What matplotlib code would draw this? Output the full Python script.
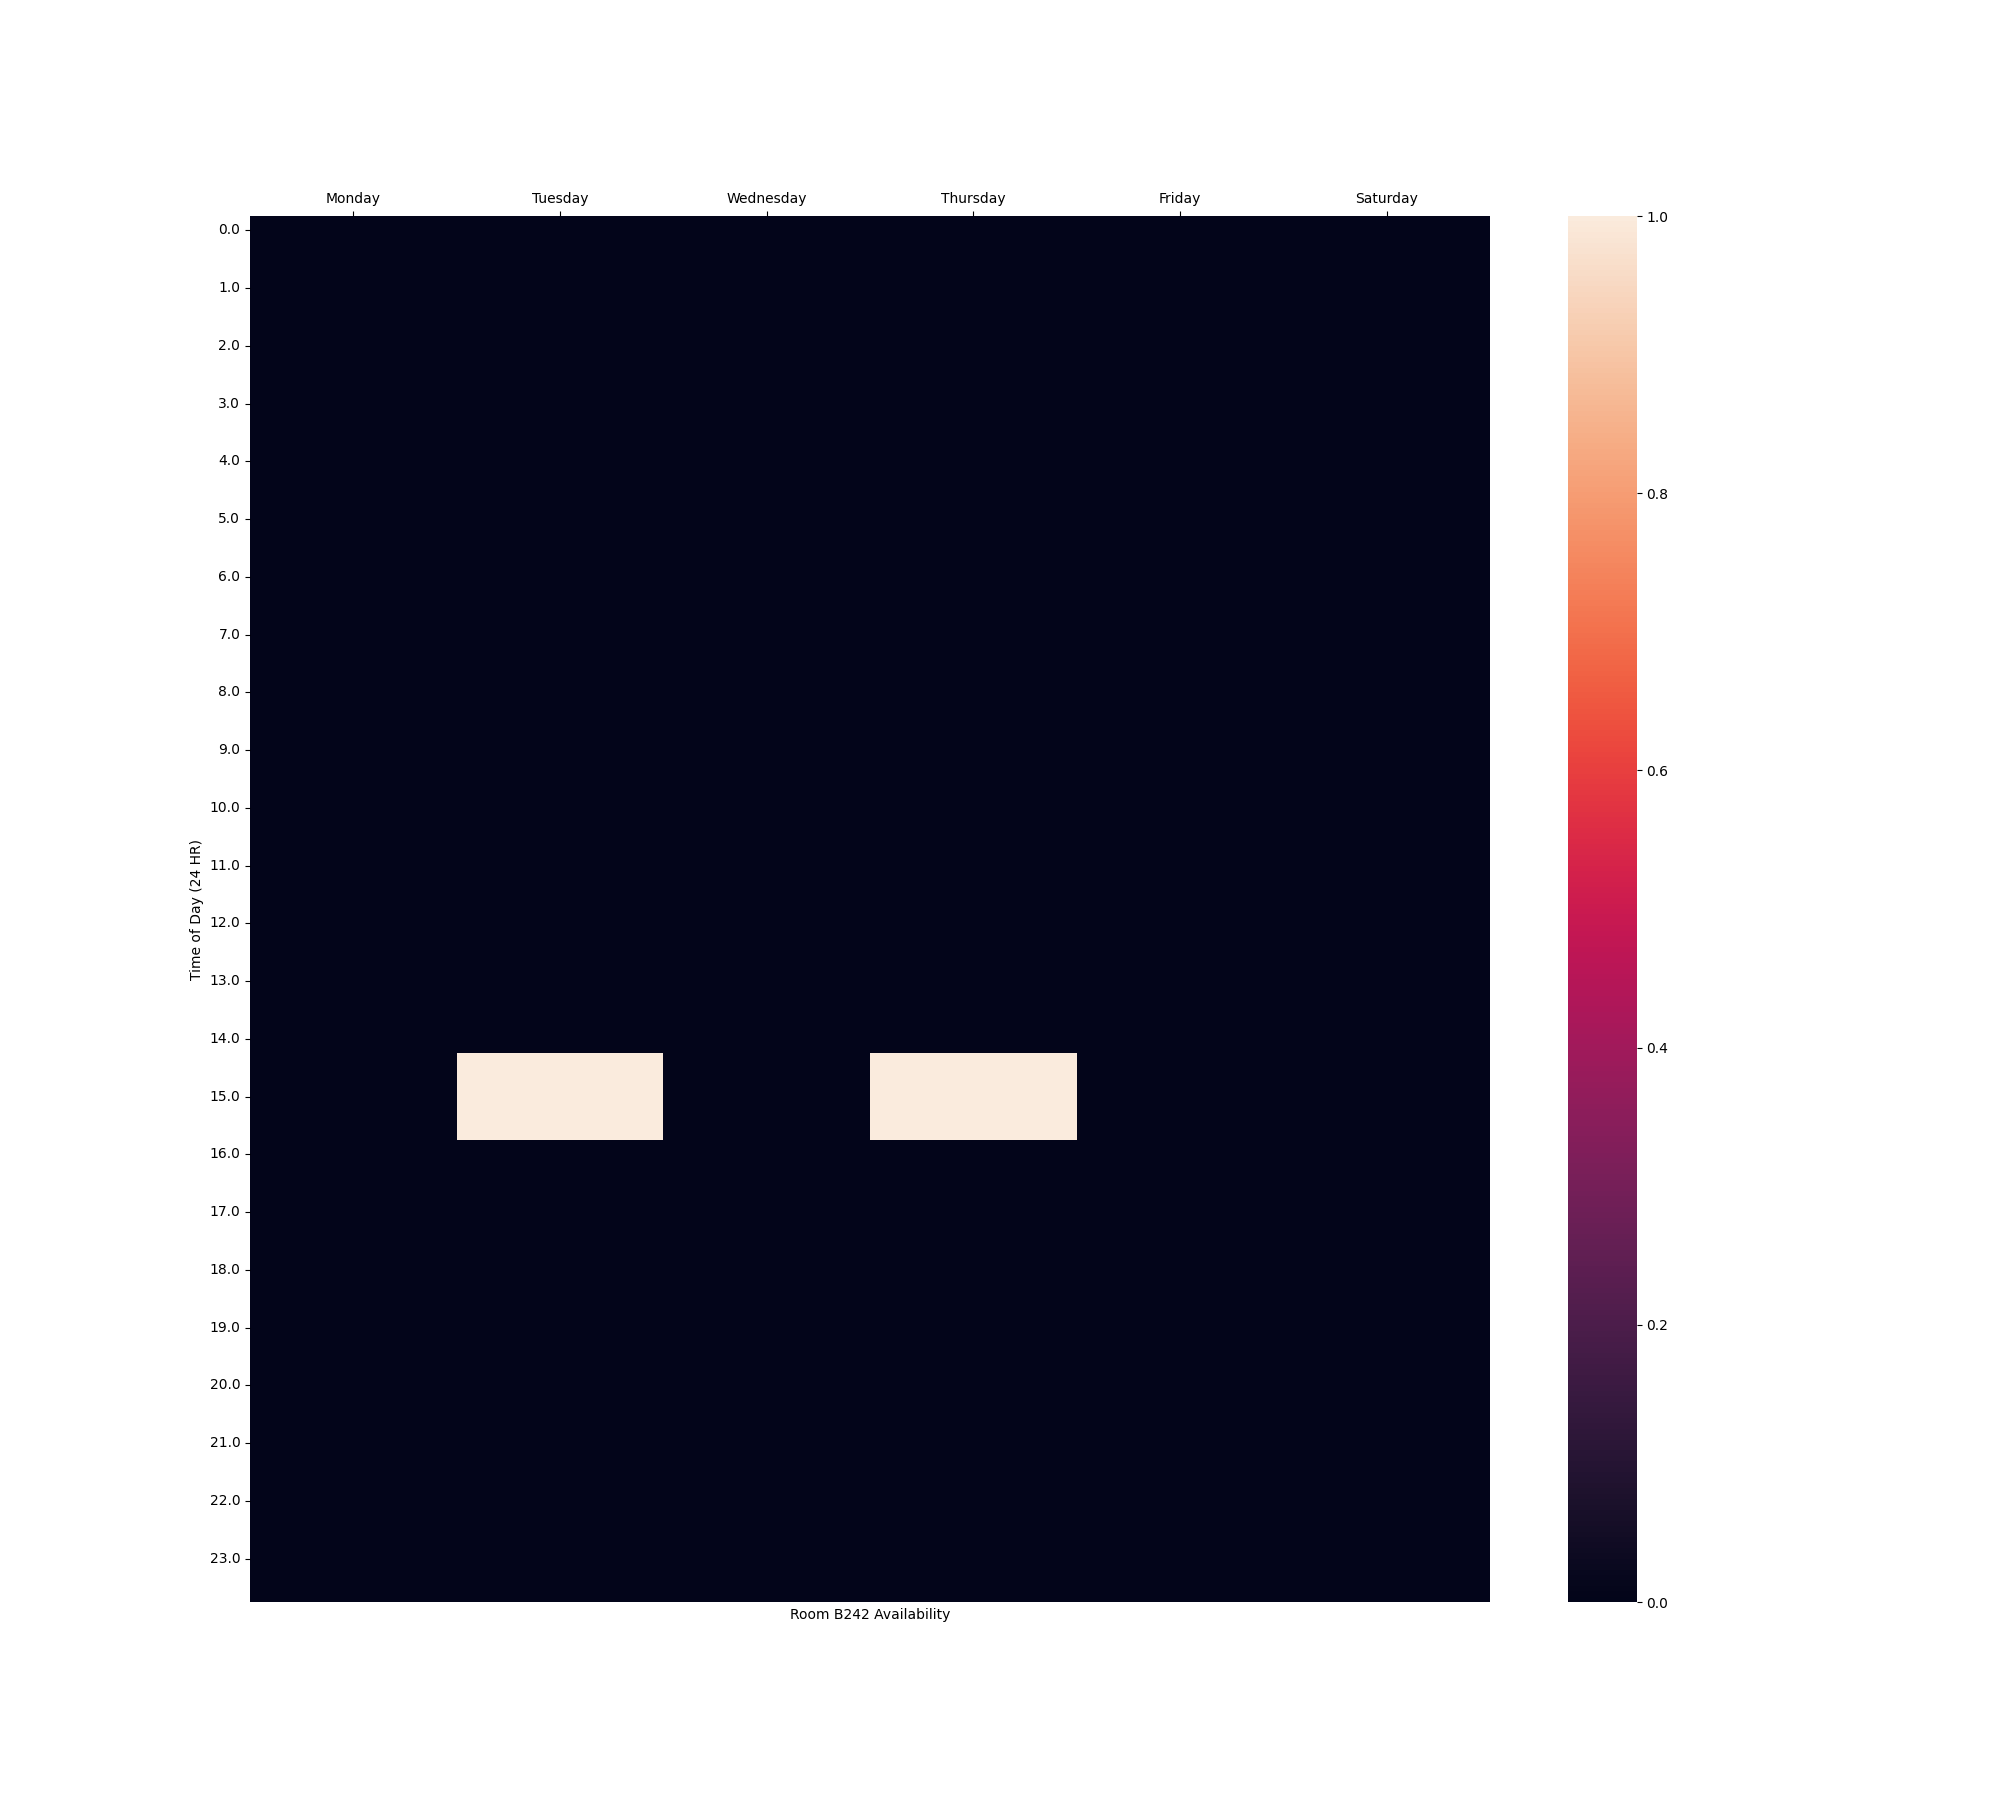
import numpy as np
import pandas as pd
import seaborn as sns
import matplotlib
matplotlib.use("Agg")
import matplotlib.pyplot as plt

days = ["Monday", "Tuesday", "Wednesday", "Thursday", "Friday", "Saturday"]
times = [h / 2 for h in range(48)]  # half-hour slots, 0.0 .. 23.5

# 1 = room available; Tuesday and Thursday 14:30-16:00
tuesday_free = [14.5, 15.0, 15.5]
thursday_free = [14.5, 15.0, 15.5]

grid = pd.DataFrame(0, index=times, columns=days)
grid.loc[tuesday_free, "Tuesday"] = 1
grid.loc[thursday_free, "Thursday"] = 1

fig, ax = plt.subplots(figsize=(20, 18))
sns.heatmap(grid, ax=ax, yticklabels=2)
ax.xaxis.tick_top()
ax.set_xlabel("Room B242 Availability")
ax.set_ylabel("Time of Day (24 HR)")
plt.yticks(rotation=0)

plt.savefig("out.png")
